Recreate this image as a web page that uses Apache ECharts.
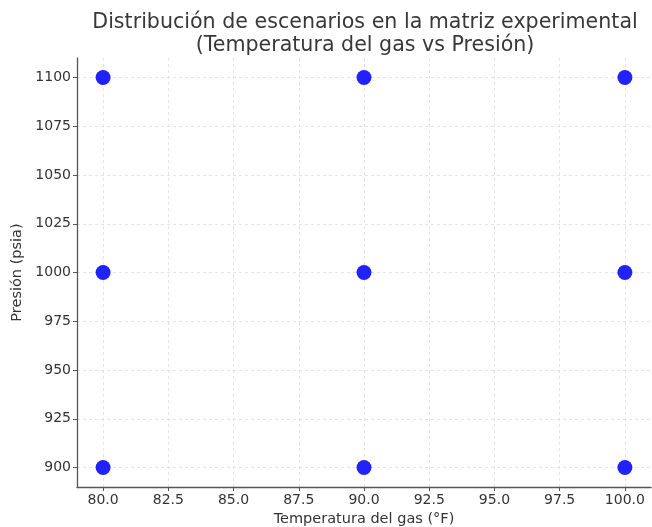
<!DOCTYPE html>
<html><head><meta charset="utf-8">
<script src="https://cdn.jsdelivr.net/npm/echarts@6/dist/echarts.min.js"></script>
<style>html,body{margin:0;padding:0;background:#fff}#c{width:652px;height:527px}</style>
</head><body><div id="c"></div>
<script>
const temperatures = [80, 90, 100, 80, 90, 100, 80, 90, 100];
const pressures = [900, 900, 900, 1000, 1000, 1000, 1100, 1100, 1100];
const xTicks = [80, 82.5, 85, 87.5, 90, 92.5, 95, 97.5, 100];
const yTicks = [900, 925, 950, 975, 1000, 1025, 1050, 1075, 1100];
const titleLines = ['Distribución de escenarios en la matriz experimental', '(Temperatura del gas vs Presión)'];

const font = 'DejaVu Sans';
const chart = echarts.init(document.getElementById('c'));
chart.setOption({
  animation: false,
  textStyle: { fontFamily: font },
  title: {
    text: titleLines.join('\n'),
    left: 360, top: 6, textAlign: 'center',
    textStyle: { fontFamily: font, fontSize: 20.6, fontWeight: 'normal', color: '#383838', lineHeight: 23 }
  },
  grid: { left: 77, right: 1, top: 58, bottom: 40, containLabel: false, outerBoundsMode: 'none' },
  xAxis: {
    type: 'value', min: 79, max: 101,
    name: 'Temperatura del gas (°F)', nameLocation: 'middle', nameGap: 25,
    nameTextStyle: { fontFamily: font, fontSize: 14.5, color: '#333' },
    axisLine: { show: true, onZero: false, lineStyle: { color: '#555', width: 1.3 } },
    axisTick: { show: true, length: 4, customValues: xTicks, lineStyle: { color: '#555' } },
    axisLabel: { customValues: xTicks, fontFamily: font, fontSize: 14, color: '#333', margin: 6,
      formatter: v => v.toFixed(1) },
    splitLine: { show: true, customValues: xTicks, lineStyle: { color: '#ddd', type: [3, 3], width: 0.8 } }
  },
  yAxis: {
    type: 'value', min: 890, max: 1110,
    name: 'Presión (psia)', nameLocation: 'middle', nameGap: 52, nameRotate: 90,
    nameTextStyle: { fontFamily: font, fontSize: 14.5, color: '#333' },
    axisLine: { show: true, onZero: false, lineStyle: { color: '#555', width: 1.3 } },
    axisTick: { show: true, length: 4, customValues: yTicks, lineStyle: { color: '#555' } },
    axisLabel: { customValues: yTicks, fontFamily: font, fontSize: 14, color: '#333', margin: 6,
      formatter: v => String(v) },
    splitLine: { show: true, customValues: yTicks, lineStyle: { color: '#ddd', type: [3, 3], width: 0.8 } }
  },
  series: [{
    type: 'scatter',
    symbolSize: 15,
    itemStyle: { color: '#2222ff', opacity: 1 },
    data: temperatures.map((t, i) => [t, pressures[i]])
  }]
});
</script></body></html>
